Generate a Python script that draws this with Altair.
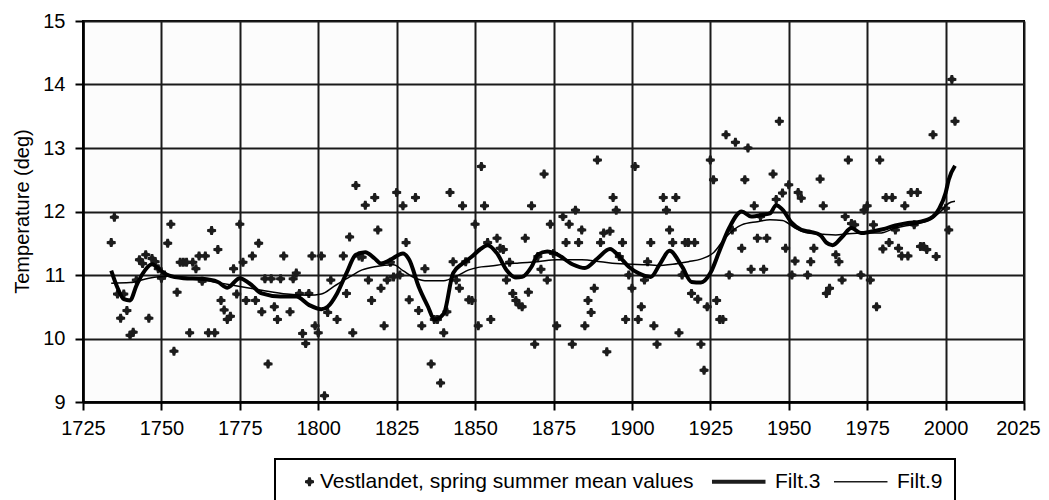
import altair as alt
import pandas as pd

# ---- annual values (Vestlandet, spring/summer mean) ----
pt_years = [
    1734, 1735, 1736, 1737, 1738, 1739, 1740, 1741, 1742, 1743, 1744, 1745, 1746, 1747, 1748, 1749,
    1750, 1751, 1752, 1753, 1754, 1755, 1756, 1757, 1758, 1759, 1760, 1761, 1762, 1763, 1764, 1765,
    1766, 1767, 1768, 1769, 1770, 1771, 1772, 1773, 1774, 1775, 1776, 1777, 1779, 1780, 1781, 1782,
    1783, 1784, 1785, 1786, 1787, 1788, 1789, 1791, 1792, 1793, 1794, 1795, 1796, 1797, 1798, 1799,
    1800, 1801, 1802, 1803, 1804, 1806, 1808, 1809, 1810, 1811, 1812, 1813, 1814, 1815, 1816, 1817,
    1818, 1819, 1820, 1821, 1822, 1823, 1824, 1825, 1826, 1827, 1828, 1829, 1831, 1832, 1833, 1834,
    1836, 1837, 1838, 1839, 1840, 1841, 1842, 1843, 1844, 1845, 1846, 1847, 1848, 1849, 1850, 1851,
    1852, 1853, 1854, 1855, 1857, 1858, 1859, 1860, 1861, 1862, 1863, 1864, 1865, 1866, 1867, 1868,
    1869, 1870, 1871, 1872, 1873, 1874, 1875, 1876, 1878, 1879, 1880, 1881, 1882, 1883, 1884, 1885,
    1886, 1887, 1888, 1889, 1890, 1891, 1892, 1893, 1894, 1895, 1896, 1897, 1898, 1899, 1900, 1901,
    1902, 1903, 1904, 1905, 1906, 1907, 1908, 1910, 1911, 1912, 1913, 1914, 1915, 1916, 1917, 1918,
    1919, 1920, 1921, 1922, 1923, 1924, 1925, 1926, 1927, 1928, 1929, 1930, 1931, 1932, 1933, 1935,
    1936, 1937, 1938, 1939, 1940, 1941, 1942, 1943, 1945, 1946, 1947, 1948, 1949, 1950, 1951, 1952,
    1953, 1954, 1956, 1957, 1958, 1960, 1961, 1962, 1963, 1965, 1966, 1967, 1968, 1969, 1970, 1971,
    1973, 1974, 1975, 1976, 1977, 1978, 1979, 1980, 1981, 1982, 1983, 1984, 1985, 1986, 1987, 1988,
    1989, 1990, 1991, 1992, 1993, 1994, 1996, 1997, 2000, 2001, 2002, 2003,
]
pt_temps = [
    11.51, 11.91, 10.70, 10.32, 10.70, 10.44, 10.05, 10.10, 10.92, 11.24, 11.18, 11.32, 10.32, 11.26, 11.21, 11.10,
    10.95, 11.00, 11.50, 11.80, 9.80, 10.73, 11.20, 11.20, 11.20, 10.09, 11.20, 11.10, 11.30, 10.90, 11.30, 10.09,
    11.70, 10.09, 11.40, 10.60, 10.45, 10.30, 10.35, 11.10, 10.70, 11.80, 11.20, 10.60, 11.30, 10.60, 11.50, 10.42,
    10.94, 9.60, 10.94, 10.50, 10.30, 10.94, 11.30, 10.42, 10.94, 11.03, 10.71, 10.08, 9.92, 10.71, 11.30, 10.20,
    10.09, 11.30, 9.10, 10.41, 10.92, 10.30, 11.30, 10.71, 11.60, 10.09, 12.41, 11.30, 11.28, 12.10, 10.92, 10.60,
    12.22, 11.71, 10.79, 10.20, 10.92, 11.20, 10.97, 12.30, 11.00, 12.09, 11.51, 10.61, 12.22, 10.44, 10.20, 11.10,
    9.60, 10.30, 10.30, 9.30, 10.09, 10.42, 12.30, 11.21, 10.92, 10.79, 12.09, 11.21, 10.61, 10.60, 11.80, 10.20,
    12.71, 12.09, 11.51, 10.30, 11.58, 11.42, 11.40, 10.92, 11.20, 10.71, 10.60, 10.53, 10.50, 11.58, 10.73, 12.09,
    9.91, 11.29, 11.09, 12.59, 10.92, 11.80, 11.34, 10.20, 11.92, 11.51, 11.80, 9.91, 12.02, 11.51, 11.71, 10.20,
    10.60, 10.41, 10.79, 12.81, 11.51, 11.66, 9.79, 11.69, 12.22, 12.02, 11.29, 11.51, 10.30, 11.00, 10.79, 12.71,
    10.30, 10.50, 10.92, 11.21, 11.51, 10.20, 9.91, 12.22, 12.02, 11.71, 11.51, 12.22, 10.09, 11.00, 11.51, 11.51,
    10.71, 11.51, 10.62, 9.91, 9.50, 10.50, 12.81, 12.50, 10.60, 10.30, 10.30, 13.21, 11.00, 11.71, 13.09, 11.42,
    12.50, 13.00, 11.09, 12.09, 11.58, 11.92, 11.09, 11.58, 12.59, 12.19, 13.42, 12.29, 11.42, 12.42, 11.00, 11.22,
    12.30, 12.21, 11.00, 11.21, 11.42, 12.51, 12.09, 10.71, 10.79, 11.32, 11.21, 10.92, 11.92, 12.81, 11.81, 11.79,
    11.00, 12.02, 12.09, 10.92, 11.79, 10.50, 12.81, 11.41, 12.22, 11.51, 12.22, 11.71, 11.42, 11.30, 12.09, 11.30,
    12.30, 11.79, 12.30, 11.45, 11.45, 11.40, 13.21, 11.29, 12.05, 11.71, 14.08, 13.42,
]

# ---- Filt.3 ----
f3_years = [
    1734, 1736, 1738, 1740, 1742, 1744, 1747, 1750, 1752, 1757, 1763, 1768, 1771, 1775, 1778, 1782,
    1788, 1793, 1797, 1801, 1803, 1806, 1809, 1812, 1815, 1818, 1820, 1823, 1827, 1829, 1832, 1835,
    1837, 1840, 1843, 1846, 1849, 1851, 1854, 1857, 1860, 1863, 1865, 1868, 1870, 1873, 1876, 1881,
    1885, 1889, 1893, 1896, 1899, 1902, 1906, 1909, 1912, 1916, 1919, 1922, 1925, 1928, 1931, 1935,
    1938, 1942, 1944, 1946, 1948, 1951, 1954, 1957, 1960, 1962, 1964, 1967, 1970, 1973, 1976, 1980,
    1984, 1988, 1992, 1996, 1998, 2000, 2001, 2003,
]
f3_temps = [
    11.07, 10.80, 10.62, 10.60, 10.83, 11.02, 11.17, 11.06, 11.00, 10.95, 10.94, 10.89, 10.80, 10.95, 10.87, 10.71,
    10.66, 10.66, 10.53, 10.46, 10.50, 10.71, 11.03, 11.32, 11.36, 11.26, 11.18, 11.24, 11.34, 11.24, 10.82, 10.50,
    10.30, 10.39, 11.03, 11.18, 11.29, 11.38, 11.47, 11.34, 11.08, 10.96, 10.97, 11.13, 11.32, 11.37, 11.33, 11.17,
    11.11, 11.26, 11.41, 11.29, 11.13, 11.03, 10.97, 11.18, 11.38, 11.13, 10.89, 10.88, 11.03, 11.39, 11.74, 12.00,
    11.92, 11.95, 11.97, 12.10, 12.03, 11.82, 11.71, 11.68, 11.63, 11.51, 11.47, 11.60, 11.74, 11.66, 11.68, 11.72,
    11.78, 11.82, 11.84, 11.92, 12.05, 12.29, 12.50, 12.72,
]

# ---- Filt.9 ----
f9_years = [
    1734, 1740, 1746, 1752, 1760, 1768, 1775, 1782, 1790, 1797, 1801, 1805, 1810, 1814, 1818, 1824,
    1827, 1831, 1834, 1840, 1844, 1848, 1851, 1855, 1859, 1864, 1870, 1876, 1884, 1890, 1895, 1900,
    1905, 1908, 1913, 1918, 1922, 1926, 1930, 1935, 1940, 1944, 1948, 1952, 1956, 1961, 1965, 1969,
    1974, 1979, 1984, 1988, 1992, 1996, 1999, 2001, 2003,
]
f9_temps = [
    10.87, 10.88, 10.95, 10.98, 10.95, 10.88, 10.82, 10.76, 10.70, 10.68, 10.70, 10.82, 10.97, 11.08, 11.13, 11.16,
    11.07, 10.95, 10.91, 10.91, 10.98, 11.08, 11.12, 11.14, 11.17, 11.19, 11.21, 11.24, 11.24, 11.21, 11.18, 11.17,
    11.16, 11.15, 11.17, 11.21, 11.25, 11.35, 11.60, 11.79, 11.84, 11.87, 11.86, 11.74, 11.66, 11.64, 11.63, 11.65,
    11.66, 11.66, 11.74, 11.78, 11.82, 11.90, 12.03, 12.13, 12.16,
]

series_names = ["Vestlandet, spring summer mean values", "Filt.3", "Filt.9"]
x_ticks = [1725, 1750, 1775, 1800, 1825, 1850, 1875, 1900, 1925, 1950, 1975, 2000, 2025]
y_ticks = [9, 10, 11, 12, 13, 14, 15]

pts = pd.DataFrame({"year": pt_years, "temp": pt_temps, "series": series_names[0]})
lines = pd.concat([
    pd.DataFrame({"year": f3_years, "temp": f3_temps, "series": series_names[1]}),
    pd.DataFrame({"year": f9_years, "temp": f9_temps, "series": series_names[2]}),
], ignore_index=True)

# marker glyph (plus with a diamond core) and legend line-sample glyphs (thick / thin bars)
STAR = ("M-0.28,-1H0.28L0.42,-0.42L1,-0.28V0.28L0.42,0.42L0.28,1H-0.28"
        "L-0.42,0.42L-1,0.28V-0.28L-0.42,-0.42Z")
THICK_GLYPH = "M-11.67,-0.45H0.22V0.45H-11.67Z"
THIN_GLYPH = "M-11.67,-0.19H0.22V0.19H-11.67Z"

FONT = "Liberation Sans"
MARK_SIZE = 81

x_enc = alt.X("year:Q",
              scale=alt.Scale(domain=[1725, 2025], nice=False, zero=False),
              axis=alt.Axis(values=x_ticks, format="d", title=None, labelPadding=8,
                            labelFlush=False,
                            labelOffset={"condition": {"test": "datum.value == 2025", "value": -6},
                                         "value": 0}))
y_enc = alt.Y("temp:Q",
              scale=alt.Scale(domain=[9, 15], nice=False, zero=False),
              axis=alt.Axis(values=y_ticks, title="Temperature (deg)", labelPadding=10,
                            labelFlush=False,
                            titleX=-61, titleY=190, titleBaseline="middle", titleAngle=270))

shape_scale = alt.Scale(domain=series_names, range=[STAR, THICK_GLYPH, THIN_GLYPH])
sw_scale = alt.Scale(type="ordinal", domain=series_names, range=[0, 4, 1.5])

leg = alt.Legend(
    title=None, orient="none", legendX=192, legendY=438,
    direction="horizontal", labelLimit=800,
    symbolOffset=12, labelOffset=0, symbolSize=MARK_SIZE,
    symbolFillColor="black",
)

points = alt.Chart(pts).mark_point(
    filled=True, fill="#1c1c1c", opacity=1, size=MARK_SIZE
).encode(
    x=x_enc, y=y_enc,
    shape=alt.Shape("series:N", scale=shape_scale, legend=leg),
)

filt = alt.Chart(lines).mark_line(color="black", interpolate="monotone").encode(
    x=x_enc, y=y_enc,
    strokeWidth=alt.StrokeWidth("series:N", scale=sw_scale, legend=None),
    detail="series:N",
)

chart = alt.layer(points, filt).properties(
    width=941, height=381,
    padding={"left": 75, "top": 13, "right": 17, "bottom": 100},
    autosize=alt.AutoSizeParams(type="none"),
).configure_view(
    stroke="black", strokeWidth=2, fill="#fcfcfc"
).configure_axis(
    grid=True, gridColor="#1a1a1a", gridWidth=2, gridOpacity=1,
    domainColor="black", domainWidth=2.5,
    tickColor="black", tickWidth=2, tickSize=8,
    labelFont=FONT, labelFontSize=20, labelColor="black",
    titleFont=FONT, titleFontSize=20, titleFontWeight="normal", titleColor="black",
).configure_legend(
    labelFont=FONT, labelFontSize=21, labelColor="black",
    columnPadding=9, padding=12, strokeColor="black", strokeWidth=2,
)

chart.save("out.html", embed_options={"renderer": "svg", "actions": False})
